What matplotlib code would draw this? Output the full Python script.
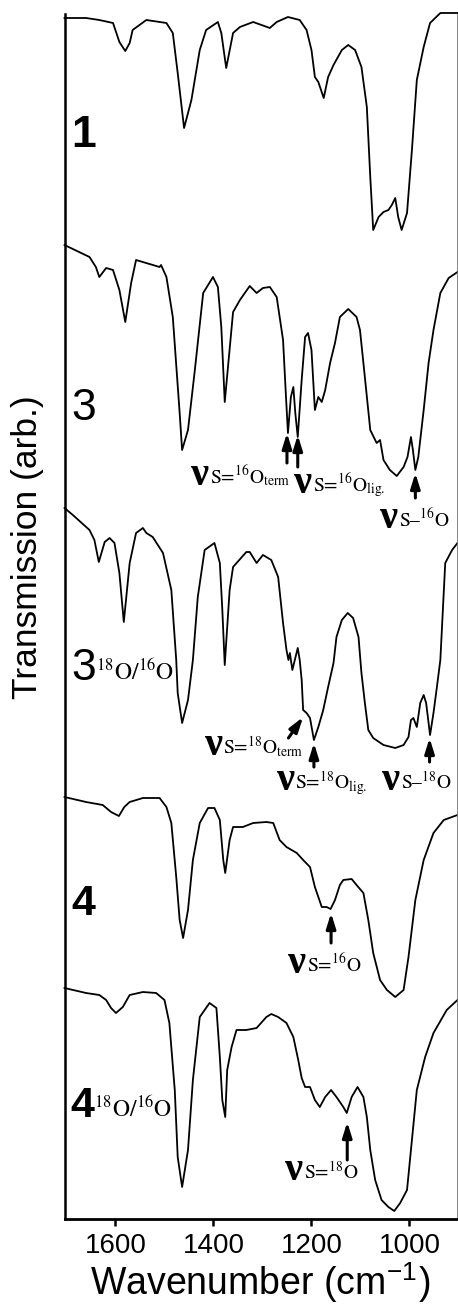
import numpy as np
import matplotlib
matplotlib.use('Agg')
import matplotlib.pyplot as plt
#________________________________________________________________________________________________________________________
# 数据 (波数 cm-1, 透过率 任意单位, 已含堆叠)
wn_1 = [1704, 1660, 1633, 1605, 1592, 1580, 1571, 1565, 1537, 1496, 1483, 1473, 1460, 1445, 1428, 1415, 1391, 1384,
        1374, 1360, 1346, 1319, 1285, 1271, 1248, 1224, 1210, 1200, 1193, 1186, 1175, 1166, 1155, 1138, 1125, 1111,
        1098, 1087, 1080, 1074, 1063, 1053, 1043, 1036, 1029, 1023, 1016, 1005, 995, 985, 971, 958, 937, 910, 902]
t_1 = [1201, 1201, 1199, 1196, 1177, 1168, 1176, 1189, 1199, 1196, 1186, 1146, 1091, 1119, 1169, 1189, 1197, 1186,
       1151, 1186, 1192, 1197, 1191, 1197, 1202, 1199, 1189, 1169, 1142, 1137, 1121, 1142, 1154, 1169, 1174, 1169,
       1152, 1112, 1042, 989, 1002, 1007, 1009, 1014, 1021, 1002, 989, 1006, 1069, 1139, 1172, 1196, 1206, 1206, 1206]

wn_3 = [1704, 1653, 1640, 1633, 1619, 1605, 1592, 1580, 1568, 1558, 1510, 1507, 1496, 1483, 1469, 1464, 1452, 1438,
        1421, 1401, 1391, 1384, 1377, 1360, 1346, 1326, 1312, 1299, 1285, 1271, 1261, 1258, 1252, 1248, 1242, 1237,
        1233, 1228, 1220, 1213, 1207, 1200, 1193, 1186, 1179, 1172, 1162, 1152, 1142, 1125, 1108, 1101, 1094, 1080,
        1067, 1060, 1053, 1040, 1026, 1012, 1004, 997, 993, 988, 982, 971, 961, 951, 937, 920, 902]
t_3 = [974, 962, 952, 942, 951, 949, 929, 897, 936, 959, 952, 954, 942, 902, 806, 769, 789, 849,
       926, 942, 932, 892, 817, 907, 919, 933, 926, 931, 932, 922, 889, 879, 822, 786, 822, 832,
       806, 782, 839, 882, 886, 869, 809, 822, 817, 829, 856, 876, 902, 910, 902, 889, 856, 789,
       776, 779, 759, 749, 743, 752, 762, 782, 769, 749, 762, 809, 856, 889, 926, 941, 947]

wn_3b = [1704, 1687, 1653, 1643, 1634, 1622, 1612, 1602, 1592, 1583, 1571, 1558, 1544, 1537, 1524, 1503, 1486, 1476,
         1473, 1464, 1452, 1442, 1432, 1418, 1398, 1387, 1382, 1377, 1367, 1360, 1333, 1326, 1312, 1299, 1282, 1268,
         1258, 1251, 1247, 1244, 1239, 1234, 1228, 1224, 1220, 1217, 1210, 1203, 1195, 1186, 1176, 1166, 1155, 1149,
         1138, 1126, 1115, 1104, 1098, 1091, 1084, 1074, 1053, 1029, 1012, 1002, 997, 992, 985, 978, 971, 966, 958,
         951, 944, 937, 927, 913, 902]
t_3b = [711, 704, 689, 679, 657, 677, 681, 676, 646, 597, 656, 686, 691, 686, 682, 666, 629, 559,
        526, 496, 519, 559, 622, 669, 676, 656, 610, 554, 629, 652, 667, 667, 656, 664, 659, 642,
        596, 569, 559, 566, 549, 559, 571, 559, 539, 509, 506, 501, 479, 492, 509, 532, 556, 582,
        599, 606, 601, 582, 546, 516, 489, 481, 474, 471, 474, 482, 499, 501, 492, 516, 524, 516, 484,
        506, 532, 559, 656, 669, 676]

wn_4 = [1704, 1660, 1626, 1609, 1593, 1582, 1571, 1544, 1510, 1496, 1486, 1476, 1469, 1462, 1452, 1442, 1428, 1411,
        1398, 1387, 1380, 1376, 1367, 1360, 1340, 1319, 1292, 1278, 1265, 1251, 1230, 1217, 1203, 1193, 1179, 1169,
        1161, 1152, 1142, 1135, 1118, 1108, 1094, 1084, 1074, 1060, 1046, 1029, 1012, 1002, 988, 971, 951, 930, 902]
t_4 = [422, 417, 414, 407, 403, 412, 417, 421, 421, 412, 396, 342, 299, 281, 309, 359, 396, 411,
       411, 399, 359, 346, 379, 392, 392, 396, 397, 396, 379, 372, 366, 359, 352, 332, 312, 312,
       310, 319, 334, 339, 340, 334, 326, 299, 266, 239, 229, 222, 229, 262, 319, 359, 386, 399, 404]

wn_4b = [1704, 1660, 1633, 1619, 1609, 1599, 1585, 1571, 1544, 1517, 1500, 1490, 1479, 1473, 1464, 1452, 1442, 1428,
         1408, 1394, 1387, 1382, 1376, 1372, 1363, 1353, 1333, 1312, 1292, 1282, 1268, 1251, 1237, 1227, 1220, 1213,
         1203, 1193, 1183, 1172, 1160, 1149, 1135, 1128, 1118, 1106, 1094, 1087, 1080, 1070, 1057, 1043, 1031, 1019,
         1005, 995, 985, 968, 951, 924, 902]
t_4b = [231, 226, 224, 219, 211, 206, 212, 224, 227, 226, 219, 196, 129, 62, 32, 69, 139, 202,
        216, 211, 162, 119, 102, 149, 172, 189, 189, 191, 202, 205, 202, 196, 182, 159, 141, 132,
        132, 119, 112, 122, 129, 122, 112, 106, 122, 132, 122, 102, 69, 39, 19, 12, 8, 16,
        29, 79, 129, 162, 186, 209, 219]

xtick_vals = [1600, 1400, 1200, 1000]
#________________________________________________________________________________________________________________________
# 字体
plt.rcParams['font.family'] = ['Liberation Sans', 'DejaVu Sans']
plt.rcParams['mathtext.fontset'] = 'stix'
serif = ['Liberation Serif', 'DejaVu Serif']
#________________________________________________________________________________________________________________________
fig = plt.figure(figsize=(4.58, 13.07), dpi=100)
ax = fig.add_axes([65 / 458, 88 / 1307, 392 / 458, 1205 / 1307])

for wn, t in [(wn_1, t_1), (wn_3, t_3), (wn_3b, t_3b), (wn_4, t_4), (wn_4b, t_4b)]:
    ax.plot(wn, t, color='k', lw=1.3, clip_on=False)

ax.set_xlim(1703, 903)
ax.set_ylim(0, 1205)
ax.set_xticks(xtick_vals)
ax.set_yticks([])
ax.spines['top'].set_visible(False)
ax.spines['left'].set_linewidth(1.8)
ax.spines['bottom'].set_linewidth(2.0)
ax.spines['right'].set_linewidth(0.6)
ax.spines['right'].set_color('0.45')
ax.tick_params(axis='x', direction='out', length=5, width=1.8, labelsize=20, pad=5)
#________________________________________________________________________________________________________________________
# 样品编号
ax.text(1690, 1072, '1', fontsize=32, fontweight='bold', va='baseline')
ax.text(1690, 799, '3', fontsize=32, va='baseline')
ax.text(1691, 539, '3', fontsize=32, va='baseline')
ax.text(1639, 539, r'${}^{18}\mathrm{O}/{}^{16}\mathrm{O}$', fontsize=17, va='baseline')
ax.text(1691, 304, '4', fontsize=31, fontweight='bold', va='baseline')
ax.text(1693, 102, '4', fontsize=31, fontweight='bold', va='baseline')
ax.text(1643, 102, r'${}^{18}\mathrm{O}/{}^{16}\mathrm{O}$', fontsize=17, va='baseline')
#________________________________________________________________________________________________________________________
# 谱峰标注
labels = [(1445, 734, r'\text{S=}^{16}\text{O}_{\text{term}}'),
          (1236, 726, r'\text{S=}^{16}\text{O}_{\text{lig.}}'),
          (1060, 691, r'\text{S–}^{16}\text{O}'),
          (1418, 464, r'\text{S=}^{18}\text{O}_{\text{term}}'),
          (1271, 429, r'\text{S=}^{18}\text{O}_{\text{lig.}}'),
          (1056, 429, r'\text{S–}^{18}\text{O}'),
          (1248, 246, r'\text{S=}^{16}\text{O}'),
          (1254, 39, r'\text{S=}^{18}\text{O}')]
for x, y, s in labels:
    ax.text(x, y, 'ν', fontsize=29, family=serif, fontweight='bold', va='baseline')
    ax.annotate('$' + s + '$', xy=(x, y), xytext=(13.5, 1), textcoords='offset points',
                fontsize=14, va='baseline')

arrows = [(1250, 756, 1250, 786), (1228, 752, 1228, 784), (988, 721, 988, 746),
          (1247, 481, 1217, 502), (1195, 452, 1195, 476), (959, 457, 959, 481),
          (1160, 276, 1160, 306), (1127, 59, 1127, 97)]
for x0, y0, x1, y1 in arrows:
    ax.annotate('', xy=(x1, y1), xytext=(x0, y0),
                arrowprops=dict(arrowstyle='-|>,head_width=0.28,head_length=0.9', lw=2.2, color='k',
                                shrinkA=0, shrinkB=0))
#________________________________________________________________________________________________________________________
fig.text(28 / 458, 1 - 547 / 1307, 'Transmission (arb.)', rotation=90, fontsize=25.5, ha='center', va='center')
fig.text(260 / 458, 12 / 1307, r'Wavenumber (cm$^{\mathregular{-1}}$)', fontsize=27, ha='center', va='baseline')
#________________________________________________________________________________________________________________________
fig.savefig('out.png', dpi=100)
